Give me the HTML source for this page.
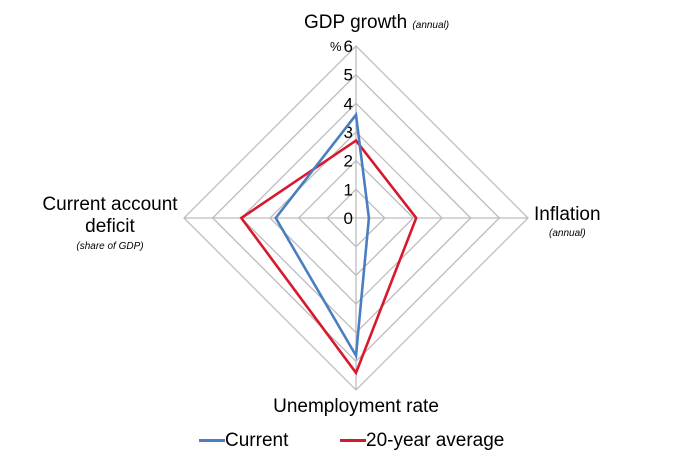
<!DOCTYPE html>
<html><head><meta charset="utf-8"><style>
body{margin:0;background:#fff;}
svg text{font-family:"Liberation Sans",Arial,sans-serif;fill:#000;}
</style></head><body>
<svg id="c" width="684" height="471"></svg>
<script>
const categories=["GDP growth","Inflation","Unemployment rate","Current account deficit"];
const currentValues=[3.6,0.45,4.8,2.8];
const averageValues=[2.7,2.1,5.4,4.0];
const tickLabels=[0,1,2,3,4,5,6];
const svg=document.getElementById('c');
const NS='http://www.w3.org/2000/svg';
const cx=356,cy=218,R=172,maxV=6;
function pt(i,v){const a=-Math.PI/2+i*Math.PI/2;const r=v/maxV*R;return [cx+r*Math.cos(a),cy+r*Math.sin(a)];}
function mk(t,attrs){const e=document.createElementNS(NS,t);for(const k in attrs)e.setAttribute(k,attrs[k]);svg.appendChild(e);return e;}
for(let k=1;k<=6;k++){
  const p=categories.map((_,i)=>pt(i,k).join(',')).join(' ');
  const g=mk('polygon',{points:p,fill:'none',stroke:'#bdbdbd','stroke-width':1.3});
  
  
}
categories.forEach((_,i)=>{const [x,y]=pt(i,6);const l=mk('line',{x1:cx,y1:cy,x2:x,y2:y,stroke:'#bdbdbd','stroke-width':1.3});

});
tickLabels.forEach(v=>{const [x,y]=pt(0,v);const t=mk('text',{x:x-3,y:y+6,'text-anchor':'end','font-size':17});t.textContent=v;

});
function series(vals,color,name){const p=vals.map((v,i)=>pt(i,v).join(',')).join(' ');
const s=mk('polygon',{points:p,fill:'none',stroke:color,'stroke-width':2.6,'stroke-linejoin':'miter'});

}
series(averageValues,'#d7192e','series-20-year-average');
series(currentValues,'#4a7ebf','series-current');
</script>
<div style="position:absolute;left:0;top:0;width:684px;height:471px;font-family:'Liberation Sans',Arial,sans-serif;">
<div style="position:absolute;left:304px;top:12px;font-size:19px;">GDP growth <i style="font-size:10px">(annual)</i></div>
<div style="position:absolute;left:330px;top:39px;font-size:13px;">%</div>
<div style="position:absolute;left:534px;top:204px;font-size:19px;">Inflation</div>
<div style="position:absolute;left:549px;top:228px;font-size:10px;font-style:italic;">(annual)</div>
<div style="position:absolute;left:30px;top:194px;width:160px;text-align:center;font-size:19px;line-height:22px;">Current account<br>deficit</div>
<div style="position:absolute;left:30px;top:241px;width:160px;text-align:center;font-size:10px;font-style:italic;">(share of GDP)</div>
<div style="position:absolute;left:206px;top:396px;width:300px;text-align:center;font-size:19px;">Unemployment rate</div>
<div style="position:absolute;left:199px;top:430px;font-size:19px;"><span style="display:inline-block;width:26px;height:3px;background:#4a7ebf;vertical-align:middle;"></span>Current</div>
<div style="position:absolute;left:340px;top:430px;font-size:19px;"><span style="display:inline-block;width:26px;height:3px;background:#d7192e;vertical-align:middle;"></span>20-year average</div>
</div>
</body></html>
